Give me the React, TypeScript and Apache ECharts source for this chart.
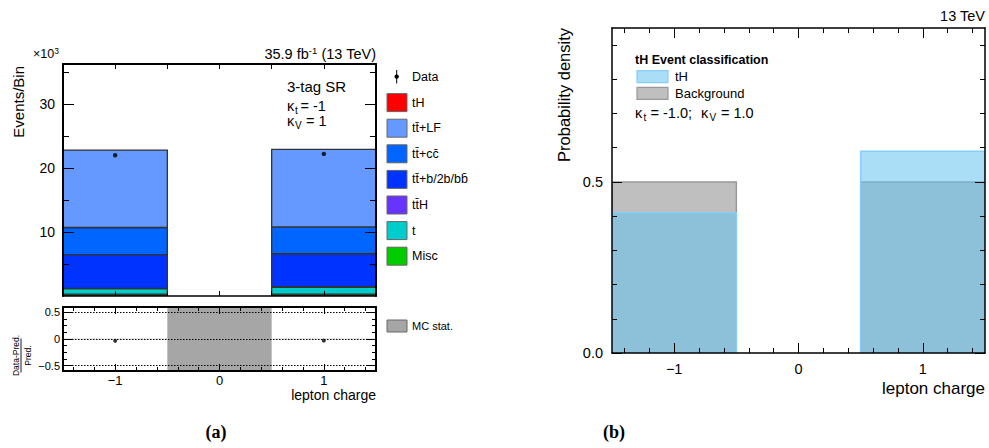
import React, { useEffect, useRef } from 'react';
import * as echarts from 'echarts';

// ---------------- data ----------------
const charges = [-1, 0, 1];

// panel (a): events per bin, in units of 10^3 (stack bottom -> top)
const misc = [0.3, 0, 0.3];
const singleTop = [0.85, 0, 1.1];
const ttH = [0.05, 0, 0.05];
const ttbb = [5.25, 0, 5.15];
const ttcc = [4.25, 0, 4.2];
const ttLF = [12.1, 0, 12.1];
const tH = [0.0, 0, 0.0];
const dataObs: (number | null)[] = [22.0, null, 22.2];

// ratio panel MC stat band (relative)
const mcStatLow = [-0.004, -0.6, -0.004];
const mcStatHigh = [0.004, 0.6, 0.004];

// panel (b): probability densities
const bkgDensity = [0.5, 0, 0.5];
const tHDensity = [0.41, 0, 0.59];

// tick values
const mainXTicks = [-1, -0.5, 0, 0.5, 1];
const mainYTicks = [10, 20, 30];
const mainYMinor = [5, 15, 25, 35];
const xMajor = [-1, 0, 1];
const xMinor = [-1.4, -1.2, -0.8, -0.6, -0.4, -0.2, 0.2, 0.4, 0.6, 0.8, 1.2, 1.4];
const ratioTicks = [-0.5, 0, 0.5];
const ratioMinor = [-0.375, -0.25, -0.125, 0.125, 0.25, 0.375];
const densTicks = [0, 0.5];
const densMinor = [0.1, 0.2, 0.3, 0.4, 0.6, 0.7, 0.8, 0.9];

const MAIN_YMAX = 36.25;
const DENS_YMAX = 0.95;

const FF = "'Liberation Sans', Arial, Helvetica, sans-serif";
const SERIF = "'Liberation Serif', 'DejaVu Serif', serif";

const fmtNum = (v: number) => (v < 0 ? '\u2212' + String(Math.abs(v)) : String(v));

function ax(o: any) {
  return {
    type: 'value',
    gridIndex: o.grid,
    min: o.min,
    max: o.max,
    position: o.pos,
    z: 10,
    axisLine: { show: !!o.line, onZero: false, lineStyle: { color: '#000', width: o.lw ?? 1.5 } },
    axisTick: o.ticks
      ? { show: true, inside: true, length: o.len, customValues: o.ticks, lineStyle: { color: '#000', width: o.tw ?? 1 } }
      : { show: false },
    axisLabel: o.labels
      ? {
          show: true,
          customValues: o.labels,
          formatter: o.fmt ?? ((v: number) => fmtNum(v)),
          fontSize: o.fs,
          fontFamily: FF,
          color: '#000',
          margin: o.margin,
        }
      : { show: false },
    splitLine: { show: false },
    splitArea: { show: false },
    minorTick: { show: false },
    minorSplitLine: { show: false },
  };
}

const binRect = (fill: string, stroke: string, lw: number) => (params: any, api: any) => {
  const c = api.value(0);
  const lo = api.value(1);
  const hi = api.value(2);
  if (!(hi > lo)) return null;
  const a = api.coord([c - 0.5, lo]);
  const b = api.coord([c + 0.5, hi]);
  return {
    type: 'rect',
    shape: { x: a[0], y: b[1], width: b[0] - a[0], height: a[1] - b[1] },
    style: { fill, stroke, lineWidth: lw },
  };
};

function buildOption() {
  const xAxis: any[] = [];
  const yAxis: any[] = [];
  const addX = (a: any) => { xAxis.push(a); return xAxis.length - 1; };
  const addY = (a: any) => { yAxis.push(a); return yAxis.length - 1; };

  // grid 0: main (a)
  const gx0 = addX(ax({ grid: 0, min: -1.5, max: 1.5, pos: 'bottom', line: true, lw: 1.5, ticks: mainXTicks, len: 5 }));
  addX(ax({ grid: 0, min: -1.5, max: 1.5, pos: 'top', line: true, lw: 2, ticks: mainXTicks, len: 5 }));
  const gy0 = addY(ax({ grid: 0, min: 0, max: MAIN_YMAX, pos: 'left', line: true, lw: 2, ticks: mainYTicks, len: 11, labels: mainYTicks, fs: 14, margin: 8 }));
  addY(ax({ grid: 0, min: 0, max: MAIN_YMAX, pos: 'left', ticks: mainYMinor, len: 6 }));
  addY(ax({ grid: 0, min: 0, max: MAIN_YMAX, pos: 'right', line: true, lw: 2, ticks: mainYTicks, len: 11 }));
  addY(ax({ grid: 0, min: 0, max: MAIN_YMAX, pos: 'right', ticks: mainYMinor, len: 6 }));

  // grid 1: ratio (a)
  const gx1 = addX(ax({ grid: 1, min: -1.5, max: 1.5, pos: 'bottom', line: true, lw: 2, ticks: xMajor, len: 7, labels: xMajor, fs: 13, margin: 3 }));
  addX(ax({ grid: 1, min: -1.5, max: 1.5, pos: 'bottom', ticks: xMinor, len: 4 }));
  addX(ax({ grid: 1, min: -1.5, max: 1.5, pos: 'top', line: true, lw: 2, ticks: xMajor, len: 7 }));
  addX(ax({ grid: 1, min: -1.5, max: 1.5, pos: 'top', ticks: xMinor, len: 4 }));
  const gy1 = addY(ax({ grid: 1, min: -0.6, max: 0.6, pos: 'left', line: true, lw: 2, ticks: ratioTicks, len: 9, labels: ratioTicks, fs: 11, margin: 3 }));
  addY(ax({ grid: 1, min: -0.6, max: 0.6, pos: 'left', ticks: ratioMinor, len: 4 }));
  addY(ax({ grid: 1, min: -0.6, max: 0.6, pos: 'right', line: true, lw: 2, ticks: ratioTicks, len: 9 }));
  addY(ax({ grid: 1, min: -0.6, max: 0.6, pos: 'right', ticks: ratioMinor, len: 4 }));

  // grid 2: panel (b)
  const gx2 = addX(ax({ grid: 2, min: -1.5, max: 1.5, pos: 'bottom', line: true, lw: 1.5, ticks: xMajor, len: 10, labels: xMajor, fs: 14.5, margin: 8 }));
  addX(ax({ grid: 2, min: -1.5, max: 1.5, pos: 'bottom', ticks: xMinor, len: 5 }));
  addX(ax({ grid: 2, min: -1.5, max: 1.5, pos: 'top', line: true, lw: 1.5, ticks: xMajor, len: 10 }));
  addX(ax({ grid: 2, min: -1.5, max: 1.5, pos: 'top', ticks: xMinor, len: 5 }));
  const gy2 = addY(ax({ grid: 2, min: 0, max: DENS_YMAX, pos: 'left', line: true, lw: 1.5, ticks: densTicks, len: 10, labels: densTicks, fs: 14.5, margin: 9, fmt: (v: number) => v.toFixed(1) }));
  addY(ax({ grid: 2, min: 0, max: DENS_YMAX, pos: 'left', ticks: densMinor, len: 5 }));
  addY(ax({ grid: 2, min: 0, max: DENS_YMAX, pos: 'right', line: true, lw: 1.5, ticks: densTicks, len: 10 }));
  addY(ax({ grid: 2, min: 0, max: DENS_YMAX, pos: 'right', ticks: densMinor, len: 5 }));

  const series: any[] = [];

  const stackDefs = [
    { name: 'Misc', vals: misc, color: '#00cc00' },
    { name: 't', vals: singleTop, color: '#00cccc' },
    { name: 'ttH', vals: ttH, color: '#6633ff' },
    { name: 'ttbb', vals: ttbb, color: '#0033ff' },
    { name: 'ttcc', vals: ttcc, color: '#0066ff' },
    { name: 'ttLF', vals: ttLF, color: '#6699ff' },
    { name: 'tH', vals: tH, color: '#ff0000' },
  ];
  const cum = charges.map(() => 0);
  stackDefs.forEach((s) => {
    const data = charges.map((c, i) => {
      const lo = cum[i];
      cum[i] += s.vals[i];
      return [c, lo, cum[i]];
    });
    series.push({
      type: 'custom', name: s.name, xAxisIndex: gx0, yAxisIndex: gy0,
      renderItem: binRect(s.color, '#333', 1.3), data, encode: { x: 0, y: [1, 2] }, z: 2, clip: true, silent: true,
    });
  });

  const dataPts = charges
    .map((c, i) => (dataObs[i] == null ? null : [c, dataObs[i] as number]))
    .filter((p) => p !== null);
  series.push({
    type: 'scatter', name: 'Data', xAxisIndex: gx0, yAxisIndex: gy0, data: dataPts,
    symbol: 'circle', symbolSize: 4.5, itemStyle: { color: '#000' }, z: 4, silent: true,
  });

  // ratio panel
  series.push({
    type: 'custom', name: 'MC stat.', xAxisIndex: gx1, yAxisIndex: gy1,
    renderItem: binRect('#a6a6a6', 'none', 0),
    data: charges.map((c, i) => [c, mcStatLow[i], mcStatHigh[i]]),
    encode: { x: 0, y: [1, 2] }, z: 2, clip: true, silent: true,
  });
  const ratioPts = charges
    .map((c, i) => (dataObs[i] == null || cum[i] <= 0 ? null : [c, (dataObs[i] as number) / cum[i] - 1]))
    .filter((p) => p !== null);
  series.push({
    type: 'scatter', name: 'ratio', xAxisIndex: gx1, yAxisIndex: gy1, data: ratioPts,
    symbol: 'circle', symbolSize: 4, itemStyle: { color: '#000' }, z: 5, silent: true,
    markLine: {
      silent: true, symbol: 'none', label: { show: false }, animation: false,
      lineStyle: { type: [1.5, 1.5], color: '#000', width: 1.1 },
      data: ratioTicks.map((v) => ({ yAxis: v })),
    },
  });

  // panel (b)
  series.push({
    type: 'custom', name: 'Background', xAxisIndex: gx2, yAxisIndex: gy2,
    renderItem: binRect('#bfbfbf', '#999999', 1.5),
    data: charges.map((c, i) => [c, 0, bkgDensity[i]]),
    encode: { x: 0, y: [1, 2] }, z: 2, clip: true, silent: true,
  });
  series.push({
    type: 'custom', name: 'tH density', xAxisIndex: gx2, yAxisIndex: gy2,
    renderItem: binRect('rgba(100,195,240,0.55)', '#87cefa', 1.5),
    data: charges.map((c, i) => [c, 0, tHDensity[i]]),
    encode: { x: 0, y: [1, 2] }, z: 3, clip: true, silent: true,
  });

  // ---------- graphics (texts, legends) ----------
  const txt = (x: number, y: number, text: string, fs: number, extra: any = {}, rich?: any) => ({
    type: 'text', x, y, silent: true, z: 100,
    rotation: extra.rotation ?? 0,
    style: {
      text, fontSize: fs, fontFamily: extra.fontFamily ?? FF, fontWeight: extra.fontWeight ?? 'normal',
      fill: '#000', align: extra.align ?? 'left', verticalAlign: extra.verticalAlign ?? 'middle', rich,
    },
  });

  const legendA = [
    { label: 'tH', color: '#ff0000' },
    { label: 'tt\u0304+LF', color: '#6699ff' },
    { label: 'tt\u0304+cc\u0304', color: '#0066ff' },
    { label: 'tt\u0304+b/2b/bb\u0304', color: '#0033ff' },
    { label: 'tt\u0304H', color: '#6633ff' },
    { label: 't', color: '#00cccc' },
    { label: 'Misc', color: '#00cc00' },
  ];

  const graphics: any[] = [];
  // panel (a) texts
  graphics.push(txt(33, 54, '{n|\u00d710}{s|3}', 12.5, {}, {
    n: { fontSize: 12.5, fontFamily: FF, lineHeight: 16 },
    s: { fontSize: 8.5, fontFamily: FF, lineHeight: 8, verticalAlign: 'top' },
  }));
  graphics.push(txt(376, 54, '{n|35.9 fb}{s|-1}{n| (13 TeV)}', 14.5, { align: 'right' }, {
    n: { fontSize: 14.5, fontFamily: FF, lineHeight: 18 },
    s: { fontSize: 9.5, fontFamily: FF, lineHeight: 9, verticalAlign: 'top' },
  }));
  graphics.push(txt(18, 66, 'Events/Bin', 15, { rotation: Math.PI / 2, align: 'right' }));
  graphics.push(txt(287, 86, '3-tag SR', 15));
  // kappa labels (a): symbol, subscript, rest
  graphics.push(txt(287, 105.5, '\u03ba', 14.5));
  graphics.push(txt(295, 110, 't', 10));
  graphics.push(txt(300.5, 105.5, '= -1', 14.5));
  graphics.push(txt(287, 121, '\u03ba', 14.5));
  graphics.push(txt(295, 125, 'V', 10));
  graphics.push(txt(306, 121, '= 1', 14.5));

  // legend (a)
  graphics.push({ type: 'line', silent: true, z: 100, shape: { x1: 396.7, y1: 70, x2: 396.7, y2: 83.5 }, style: { stroke: '#000', lineWidth: 1 } });
  graphics.push({ type: 'circle', silent: true, z: 100, shape: { cx: 396.7, cy: 76.7, r: 2.2 }, style: { fill: '#000' } });
  graphics.push(txt(412, 76.7, 'Data', 12.5));
  legendA.forEach((e, i) => {
    const cy = 102.6 + i * 25.6;
    graphics.push({ type: 'rect', silent: true, z: 100, shape: { x: 387, y: cy - 9, width: 20, height: 18 }, style: { fill: e.color, stroke: '#666', lineWidth: 1 } });
    graphics.push(txt(412, cy, e.label, 12.5));
  });
  graphics.push({ type: 'rect', silent: true, z: 100, shape: { x: 387, y: 320, width: 20, height: 12 }, style: { fill: '#a6a6a6', stroke: '#666', lineWidth: 1 } });
  graphics.push(txt(412, 326, 'MC stat.', 11));

  // ratio y title as fraction
  graphics.push({
    type: 'group', x: 21, y: 355.5, rotation: Math.PI / 2, silent: true, z: 100,
    children: [
      { type: 'text', x: 0, y: -5.5, style: { text: 'Data-Pred.', fontSize: 8.5, fontFamily: FF, fill: '#000', align: 'center', verticalAlign: 'middle' } },
      { type: 'line', shape: { x1: -17, y1: 0, x2: 17, y2: 0 }, style: { stroke: '#000', lineWidth: 0.9 } },
      { type: 'text', x: 0, y: 6.5, style: { text: 'Pred.', fontSize: 8.5, fontFamily: FF, fill: '#000', align: 'center', verticalAlign: 'middle' } },
    ],
  });
  graphics.push(txt(376, 395, 'lepton charge', 14, { align: 'right' }));

  // panel (b) texts
  graphics.push(txt(985, 16, '13 TeV', 14.5, { align: 'right' }));
  graphics.push(txt(564, 28, 'Probability density', 16.5, { rotation: Math.PI / 2, align: 'right' }));
  graphics.push(txt(985, 388, 'lepton charge', 17, { align: 'right' }));
  graphics.push(txt(635, 60, 'tH Event classification', 12.5, { fontWeight: 'bold' }));
  graphics.push({ type: 'rect', silent: true, z: 100, shape: { x: 637, y: 70.7, width: 31, height: 12 }, style: { fill: 'rgb(170,222,247)', stroke: '#87cefa', lineWidth: 1.2 } });
  graphics.push(txt(675, 76.7, 'tH', 13));
  graphics.push({ type: 'rect', silent: true, z: 100, shape: { x: 637, y: 87.3, width: 31, height: 12 }, style: { fill: '#bfbfbf', stroke: '#999', lineWidth: 1.2 } });
  graphics.push(txt(675, 93.3, 'Background', 13));
  graphics.push(txt(635, 112.7, '\u03ba', 14.5));
  graphics.push(txt(643.5, 117, 't', 10));
  graphics.push(txt(650.5, 112.7, '= -1.0;', 14.5));
  graphics.push(txt(701, 112.7, '\u03ba', 14.5));
  graphics.push(txt(709.5, 117, 'V', 10));
  graphics.push(txt(721, 112.7, '= 1.0', 14.5));

  // captions
  graphics.push(txt(216, 432, '(a)', 18, { align: 'center', fontFamily: SERIF, fontWeight: 'bold' }));
  graphics.push(txt(614, 432, '(b)', 18, { align: 'center', fontFamily: SERIF, fontWeight: 'bold' }));

  return {
    animation: false,
    backgroundColor: '#ffffff',
    grid: [
      { left: 63, top: 64, width: 313, height: 232, containLabel: false, outerBoundsMode: 'none' },
      { left: 63, top: 307, width: 313, height: 64, containLabel: false, outerBoundsMode: 'none' },
      { left: 612, top: 28, width: 373, height: 325, containLabel: false, outerBoundsMode: 'none' },
    ],
    xAxis,
    yAxis,
    series,
    graphic: { elements: graphics },
    tooltip: { show: false },
  };
}

export default function App() {
  const ref = useRef<HTMLDivElement>(null);
  useEffect(() => {
    document.body.style.margin = '0';
    const chart = echarts.init(ref.current as HTMLDivElement, null, { renderer: 'svg' });
    chart.setOption(buildOption() as any);
    return () => chart.dispose();
  }, []);
  return (
    <div
      ref={ref}
      style={{ position: 'absolute', left: 0, top: 0, width: 989, height: 448, background: '#fff' }}
    />
  );
}
